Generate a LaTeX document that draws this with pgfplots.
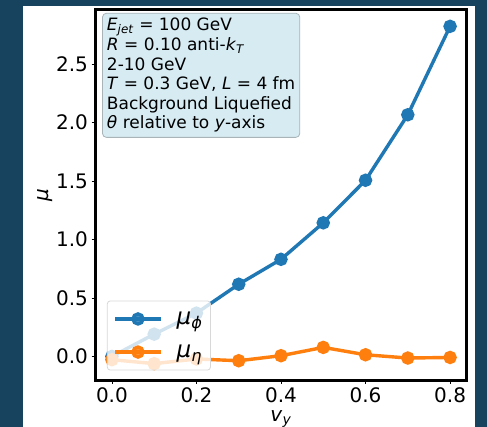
\documentclass[border=0pt]{standalone}
\usepackage{fontspec}
\setmainfont{DejaVu Sans}
\usepackage{pgfplots}
\pgfplotsset{compat=1.18}

\definecolor{bgblue}{HTML}{17435F}
\definecolor{mplblue}{HTML}{1F77B4}
\definecolor{mplorange}{HTML}{FF7F0E}
\definecolor{boxblue}{HTML}{D6EBF2}
\definecolor{boxedge}{HTML}{A8B4B8}
\definecolor{legedge}{HTML}{D8D8D8}

\begin{document}
\begin{tikzpicture}
% screenshot backdrop
\fill[bgblue] (0pt,0pt) rectangle (487pt,427pt);
\fill[white] (23pt,0pt) rectangle (475pt,421pt);

\begin{axis}[
    at={(95pt,46.5pt)}, anchor=south west,
    width=372pt, height=371pt, scale only axis,
    xmin=-0.04, xmax=0.84,
    ymin=-0.206, ymax=2.966,
    xtick={0,0.2,0.4,0.6,0.8},
    ytick={0,0.5,1,1.5,2,2.5},
    xtick pos=left, ytick pos=left,
    tick align=outside,
    major tick length=3.5pt,
    tick style={black, line width=0.8pt},
    axis line style={line width=3pt},
    xticklabel style={/pgf/number format/.cd, fixed, fixed zerofill, precision=1},
    yticklabel style={/pgf/number format/.cd, fixed, fixed zerofill, precision=1},
    /pgf/number format/assume math mode=true,
    ticklabel style={font=\fontsize{20}{23}\selectfont},
    xlabel={\textit{v}\textsubscript{\textit{y}}},
    ylabel={\textit{μ}},
    label style={font=\fontsize{20}{23}\selectfont},
    xlabel style={yshift=-1pt},
    ylabel style={yshift=-3pt},
    legend style={
        at={(0.032,0.027)}, anchor=south west,
        fill=white, fill opacity=0.8, draw opacity=1, text opacity=1,
        draw=legedge, line width=0.8pt, rounded corners=3pt,
        font=\fontsize{23}{25}\selectfont,
        row sep=15pt, inner xsep=6pt, inner ysep=9pt,
        /tikz/every odd column/.append style={column sep=12pt},
    },
    legend cell align=left,
    legend image code/.code={
        \draw[mark repeat=2, mark phase=2, #1]
            plot coordinates {(0pt,0pt) (23pt,0pt) (46pt,0pt)};
    },
]
\addplot[mplblue, line width=3.4pt, mark=*, mark size=5pt]
    coordinates {(0.0,0.00) (0.1,0.19) (0.2,0.37) (0.3,0.617) (0.4,0.83)
                 (0.5,1.142) (0.6,1.506) (0.7,2.066) (0.8,2.822)};
\addlegendentry{\textit{μ}\textsubscript{\textit{ϕ}}}
\addplot[mplorange, line width=3.4pt, mark=*, mark size=5pt]
    coordinates {(0.0,-0.028) (0.1,-0.062) (0.2,-0.022) (0.3,-0.037) (0.4,0.006)
                 (0.5,0.077) (0.6,0.014) (0.7,-0.014) (0.8,-0.009)};
\addlegendentry{\textit{μ}\textsubscript{\textit{η}}}

\node[anchor=north west, fill=boxblue, draw=boxedge, line width=0.8pt,
      rounded corners=4pt, align=left, inner xsep=4.5pt, inner ysep=5pt,
      font=\fontsize{17}{19.6}\selectfont]
    at (rel axis cs:0.019,0.991) {%
    \textit{E}\textsubscript{\textit{jet}} = 100 GeV\\
    \textit{R} = 0.10 anti-\textit{k}\textsubscript{\textit{T}}\\
    2-10 GeV\\
    \textit{T} = 0.3 GeV, \textit{L} = 4 fm\\
    Background Liquefied\\
    \textit{θ} relative to \textit{y}-axis};
\end{axis}
\pgfresetboundingbox
\path (0pt,0pt) rectangle (487pt,427pt);
\end{tikzpicture}
\end{document}
